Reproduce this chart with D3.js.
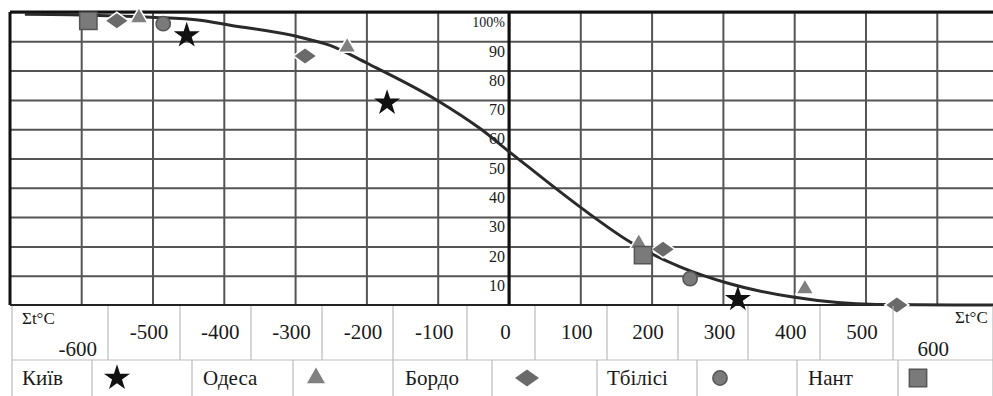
<!DOCTYPE html>
<html>
<head>
<meta charset="utf-8">
<title>Σt°C curve</title>
<script src="https://cdn.jsdelivr.net/npm/d3@7/dist/d3.min.js"></script>
<style>
  body { margin: 0; background: #fff; }
  svg { display: block; }
  .grid line { stroke: #555; stroke-width: 2; }
  .grid path { display: none; }
  .lbl text { font-family: "Liberation Serif", "DejaVu Serif", serif; fill: #1a1a1a; }
  .lbl path, .lbl line { display: none; }
  .leg text { font-family: "Liberation Serif", "DejaVu Serif", serif; fill: #1a1a1a; }
  .cell { stroke: #bbb; stroke-width: 1.2; fill: none; }
</style>
</head>
<body>
<script>
// --- data ---
var xTicks = [-600, -500, -400, -300, -200, -100, 0, 100, 200, 300, 400, 500, 600];
var yTicks = [10, 20, 30, 40, 50, 60, 70, 80, 90, 100];

// fitted curve (Σt°C, %)
var curveX = [-679, -600, -503, -433, -391, -293, -251, -199, -101, -41, 1, 100, 170, 240, 306, 398, 516, 679];
var curveY = [99.2, 99, 98.2, 97.2, 95.5, 91.4, 88.6, 82.5, 69.9, 60.3, 52.2, 33.4, 21.5, 13, 7.5, 2.7, 0.2, 0];

var cities = ["Київ", "Одеса", "Бордо", "Тбілісі", "Нант"];
var kyivX = [-452, -171, 321],        kyivY = [92, 69, 2];
var odesaX = [-519, -227, 182, 415],  odesaY = [98, 88, 21, 5.5];
var bordoX = [-550, -286, 216, 544],  bordoY = [97, 85, 19, 0];
var tbilisiX = [-485, 254],           tbilisiY = [96, 9];
var nantX = [-590, 188],              nantY = [97, 17];

var w = 993, h = 396;
var plotLeft = 10, plotTop = 12, plotBottom = 305;

var xScale = d3.scaleLinear().domain([0, 100]).range([509, 580.3]);
var yScale = d3.scaleLinear().domain([0, 100]).range([plotBottom, plotTop]);

var svg = d3.select("body").append("svg")
    .attr("width", w)
    .attr("height", h);

// grid
var xGridVals = d3.range(-700, 701, 100).filter(function(v) { return xScale(v) > plotLeft + 1 && xScale(v) < w; });
svg.append("g")
    .attr("class", "grid")
    .attr("transform", "translate(0," + plotBottom + ")")
    .call(d3.axisBottom(xScale).tickValues(xGridVals).tickSize(-(plotBottom - plotTop)).tickFormat(""));

svg.append("g")
    .attr("class", "grid")
    .attr("transform", "translate(" + plotLeft + ",0)")
    .call(d3.axisLeft(yScale).tickValues(yTicks).tickSize(-(w - plotLeft)).tickFormat(""));

// frame lines
svg.append("line").attr("x1", plotLeft).attr("x2", w).attr("y1", plotTop).attr("y2", plotTop)
    .attr("stroke", "#111").attr("stroke-width", 3);
svg.append("line").attr("x1", plotLeft).attr("x2", plotLeft).attr("y1", plotTop).attr("y2", plotBottom)
    .attr("stroke", "#111").attr("stroke-width", 3);
svg.append("line").attr("x1", plotLeft).attr("x2", w).attr("y1", plotBottom).attr("y2", plotBottom)
    .attr("stroke", "#222").attr("stroke-width", 2);
svg.append("line").attr("x1", xScale(0)).attr("x2", xScale(0)).attr("y1", plotTop).attr("y2", plotBottom)
    .attr("stroke", "#111").attr("stroke-width", 3);

// y labels sit inside each row, just left of the zero line
var rowH = yScale(0) - yScale(10);
var yLab = svg.append("g")
    .attr("class", "lbl")
    .attr("transform", "translate(" + (xScale(0) - 4) + "," + (rowH / 2 - 5) + ")")
    .call(d3.axisLeft(yScale).tickValues(yTicks).tickSize(0).tickPadding(0)
        .tickFormat(function(d) { return d === 100 ? "100%" : d; }));
yLab.selectAll("text").style("font-size", "16px");
yLab.select(".tick:last-of-type text").style("font-size", "14px");

// curve
var curvePts = curveX.map(function(x, i) { return [x, curveY[i]]; });
svg.append("path")
    .datum(curvePts)
    .attr("fill", "none")
    .attr("stroke", "#2a2a2a")
    .attr("stroke-width", 3)
    .attr("d", d3.line()
        .x(function(d) { return xScale(d[0]); })
        .y(function(d) { return yScale(d[1]); })
        .curve(d3.curveMonotoneX));

// markers
function shape(kind, size) {
    if (kind === "diamond") return d3.symbol(d3.symbolSquare, size)();
    return d3.symbol(kind, size)();
}
var series = [
    { xs: kyivX, ys: kyivY, sym: d3.symbolStar, size: 210, fill: "#111", stroke: "none", tf: "" },
    { xs: odesaX, ys: odesaY, sym: d3.symbolTriangle, size: 140, fill: "#808080", stroke: "#fff", tf: "" },
    { xs: bordoX, ys: bordoY, sym: "diamond", size: 170, fill: "#6a6a6a", stroke: "#fff", tf: " scale(1.3,0.92) rotate(45)" },
    { xs: tbilisiX, ys: tbilisiY, sym: d3.symbolCircle, size: 160, fill: "#7a7a7a", stroke: "#555", tf: "" },
    { xs: nantX, ys: nantY, sym: d3.symbolSquare, size: 300, fill: "#7a7a7a", stroke: "#555", tf: "" }
];
series.forEach(function(s) {
    svg.append("g").selectAll("path")
        .data(s.xs.map(function(x, i) { return [x, s.ys[i]]; }))
        .enter()
        .append("path")
        .attr("d", shape(s.sym, s.size))
        .attr("transform", function(d) {
            return "translate(" + xScale(d[0]) + "," + yScale(d[1]) + ")" + s.tf;
        })
        .attr("fill", s.fill)
        .attr("stroke", s.stroke)
        .attr("stroke-width", 1.5);
});

// bottom table
var row1 = 306, row2 = 360;
var tickCells = [12, 108, 180, 251, 322, 393, 467, 535, 607, 678, 748, 820, 893, w];
tickCells.forEach(function(x) {
    svg.append("line").attr("class", "cell").attr("x1", x).attr("x2", x).attr("y1", row1).attr("y2", row2);
});
var legCells = [12, 92, 192, 293, 393, 492, 597, 697, 797, 898, w];
legCells.forEach(function(x) {
    svg.append("line").attr("class", "cell").attr("x1", x).attr("x2", x).attr("y1", row2).attr("y2", h);
});
svg.append("line").attr("class", "cell").attr("x1", 12).attr("x2", w).attr("y1", row2).attr("y2", row2);

var fmt = function(d) { return String(d); };
var inner = xTicks.filter(function(v) { return Math.abs(v) < 600; });
var xLab = svg.append("g")
    .attr("class", "lbl")
    .attr("transform", "translate(-4," + (row1 + 18) + ")")
    .call(d3.axisBottom(xScale).tickValues(inner).tickSize(0).tickPadding(0).tickFormat(fmt));
xLab.selectAll("text").style("font-size", "21px");

var edge = svg.append("g")
    .attr("class", "lbl")
    .attr("transform", "translate(-4," + (row1 + 35) + ")")
    .call(d3.axisBottom(xScale).tickValues([-600, 600]).tickSize(0).tickPadding(0).tickFormat(fmt));
edge.selectAll("text").style("font-size", "21px");

var unit = svg.append("g").attr("class", "leg");
unit.append("text").attr("x", 22).attr("y", row1 + 18).text("Σt°C").style("font-size", "17px");
unit.append("text").attr("x", 955).attr("y", row1 + 17).text("Σt°C").style("font-size", "17px");

// legend row
var legX = [22, 203, 405, 607, 808];
var legSym = [117, 316, 527, 720, 918];
var leg = svg.append("g").attr("class", "leg");
cities.forEach(function(c, i) {
    leg.append("text").attr("x", legX[i]).attr("y", row2 + 25).text(c).style("font-size", "21px");
    var s = series[i];
    leg.append("path")
        .attr("d", shape(s.sym, s.size))
        .attr("transform", "translate(" + legSym[i] + "," + (row2 + 18) + ")" + s.tf)
        .attr("fill", s.fill)
        .attr("stroke", s.stroke === "#fff" ? "none" : s.stroke)
        .attr("stroke-width", 1.5);
});
</script>
</body>
</html>
